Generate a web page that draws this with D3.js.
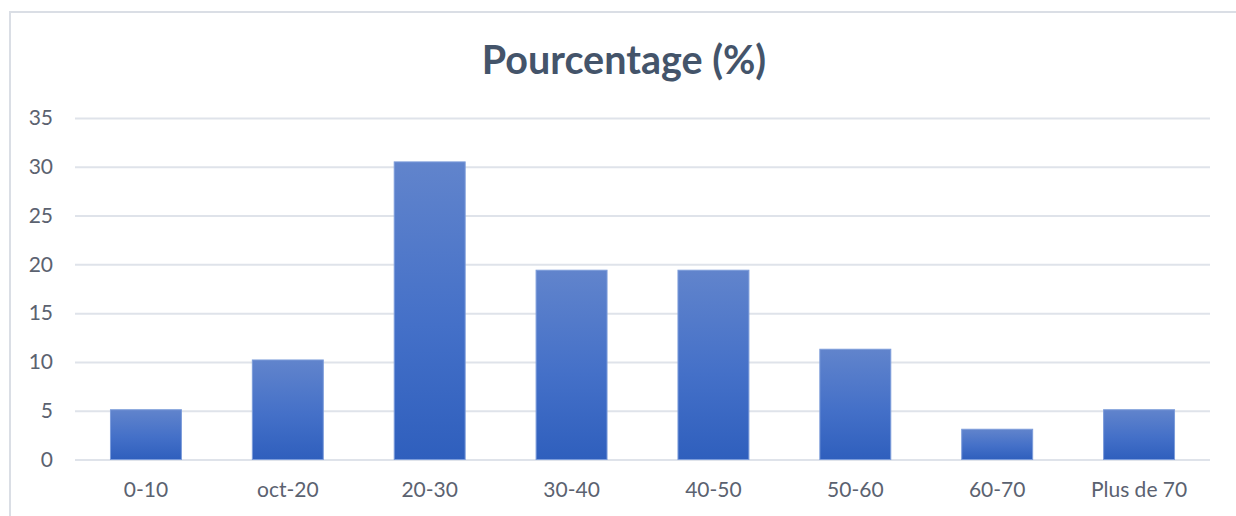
<!DOCTYPE html>
<html>
<head>
<meta charset="utf-8">
<script src="https://cdn.jsdelivr.net/npm/d3@7"></script>
<style>
  html, body { margin: 0; padding: 0; background: #ffffff; }
  svg { display: block; }
</style>
</head>
<body>
<svg id="chart" width="1236" height="516"></svg>
<script>
// Age bands and their share of the total, in percent
const categories = ["0-10", "oct-20", "20-30", "30-40", "40-50", "50-60", "60-70", "Plus de 70"];
const values = [5.1, 10.2, 30.5, 19.4, 19.4, 11.3, 3.1, 5.1];
const yTicks = [0, 5, 10, 15, 20, 25, 30, 35];
const title = "Pourcentage (%)";

const svg = d3.select("#chart");
const W = 1236, H = 516;
const plot = { left: 75, right: 1210, top: 118, bottom: 459.5 };

// Chart frame (continues past the right and bottom edges)
svg.append("rect")
  .attr("x", 10).attr("y", 12)
  .attr("width", W + 20).attr("height", H + 20)
  .attr("fill", "#ffffff")
  .attr("stroke", "#dadee5")
  .attr("stroke-width", 2);

// Vertical gradient used for every bar
const defs = svg.append("defs");
const grad = defs.append("linearGradient")
  .attr("id", "barFill")
  .attr("x1", 0).attr("y1", 0).attr("x2", 0).attr("y2", 1);
grad.append("stop").attr("offset", "0%").attr("stop-color", "#6184cc");
grad.append("stop").attr("offset", "55%").attr("stop-color", "#4470c8");
grad.append("stop").attr("offset", "100%").attr("stop-color", "#2f5fbd");

const x = d3.scaleBand()
  .domain(categories)
  .range([plot.left, plot.right])
  .paddingInner(0.5)
  .paddingOuter(0.25);

const y = d3.scaleLinear()
  .domain([0, 35])
  .range([plot.bottom, plot.top]);

// Horizontal gridlines with value labels
const yAxis = d3.axisLeft(y)
  .tickValues(yTicks)
  .tickSize(-(plot.right - plot.left))
  .tickPadding(22)
  .tickFormat(d3.format("d"));

const gy = svg.append("g")
  .attr("transform", `translate(${plot.left},0)`)
  .call(yAxis);
gy.select(".domain").remove();
gy.selectAll(".tick line")
  .attr("stroke", "#dfe3ea")
  .attr("stroke-width", 2);
gy.selectAll(".tick text")
  .attr("fill", "#5b6270")
  .attr("font-family", "Lato, 'Open Sans', sans-serif")
  .attr("font-size", 21);

// Bars
svg.append("g")
  .selectAll("rect")
  .data(values)
  .join("rect")
  .attr("x", (d, i) => x(categories[i]))
  .attr("y", d => y(d))
  .attr("width", x.bandwidth())
  .attr("height", d => y(0) - y(d))
  .attr("fill", "url(#barFill)")
  .attr("stroke", "#7c9cda")
  .attr("stroke-width", 1);

// Category labels
const xAxis = d3.axisBottom(x).tickSize(0).tickPadding(23);
const gx = svg.append("g")
  .attr("transform", `translate(0,${plot.bottom})`)
  .call(xAxis);
gx.select(".domain").remove();
gx.selectAll(".tick text")
  .attr("fill", "#5b6270")
  .attr("font-family", "Lato, 'Open Sans', sans-serif")
  .attr("font-size", 21);

// Title
svg.append("text")
  .attr("x", 624)
  .attr("y", 74)
  .attr("text-anchor", "middle")
  .attr("fill", "#44546a")
  .attr("font-family", "Lato, 'Open Sans', sans-serif")
  .attr("font-weight", "bold")
  .attr("font-size", 39.5)
  .text(title);
</script>
</body>
</html>
